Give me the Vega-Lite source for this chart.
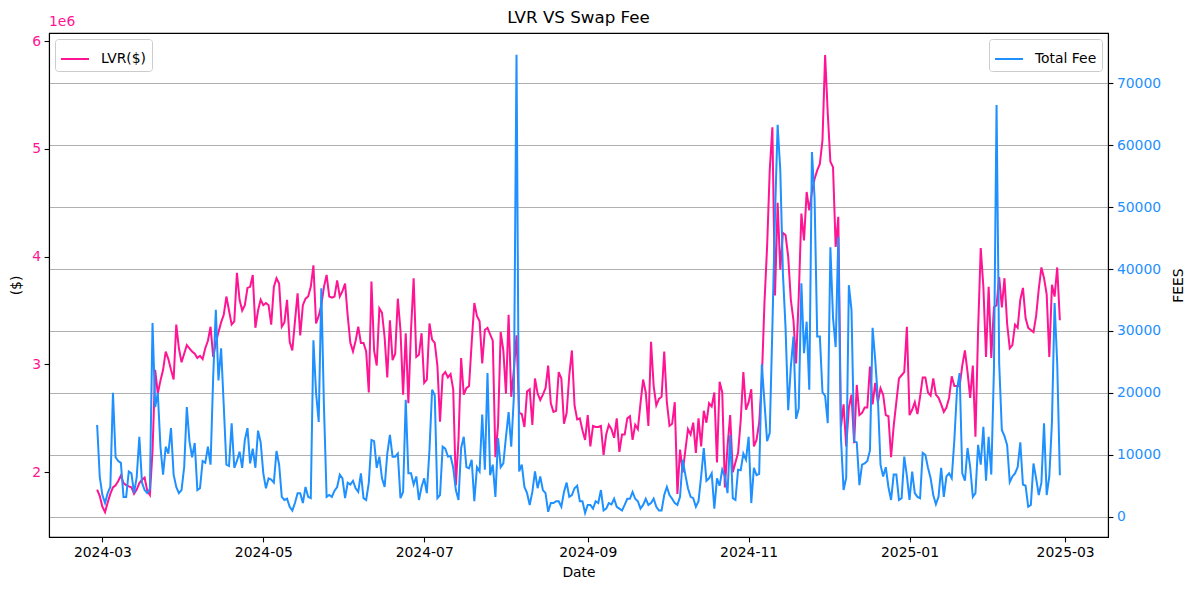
{
  "$schema": "https://vega.github.io/schema/vega-lite/v6.json",
  "width": 1059,
  "height": 504,
  "autosize": "none",
  "padding": {"left": 49, "top": 33, "right": 81, "bottom": 53},
  "title": {
    "text": "LVR VS Swap Fee",
    "frame": "group",
    "anchor": "middle",
    "fontSize": 16.7,
    "fontWeight": "normal",
    "color": "#000000",
    "offset": -12
  },
  "data": {
    "values": [
      {"date": "2024-02-28", "lvr": 1840000, "fee": 14800},
      {"date": "2024-02-29", "lvr": 1780000, "fee": 6400},
      {"date": "2024-03-01", "lvr": 1680000, "fee": 3500},
      {"date": "2024-03-02", "lvr": 1630000, "fee": 2200},
      {"date": "2024-03-03", "lvr": 1720000, "fee": 3800},
      {"date": "2024-03-04", "lvr": 1800000, "fee": 4800},
      {"date": "2024-03-05", "lvr": 1860000, "fee": 20000},
      {"date": "2024-03-06", "lvr": 1880000, "fee": 9600},
      {"date": "2024-03-07", "lvr": 1920000, "fee": 9000},
      {"date": "2024-03-08", "lvr": 1970000, "fee": 8700},
      {"date": "2024-03-09", "lvr": 1900000, "fee": 3200},
      {"date": "2024-03-10", "lvr": 1880000, "fee": 3200},
      {"date": "2024-03-11", "lvr": 1870000, "fee": 7300},
      {"date": "2024-03-12", "lvr": 1860000, "fee": 7000},
      {"date": "2024-03-13", "lvr": 1800000, "fee": 3800},
      {"date": "2024-03-14", "lvr": 1840000, "fee": 6400},
      {"date": "2024-03-15", "lvr": 1900000, "fee": 12900},
      {"date": "2024-03-16", "lvr": 1930000, "fee": 5500},
      {"date": "2024-03-17", "lvr": 1950000, "fee": 4300},
      {"date": "2024-03-18", "lvr": 1830000, "fee": 3800},
      {"date": "2024-03-19", "lvr": 1790000, "fee": 4500},
      {"date": "2024-03-20", "lvr": 2200000, "fee": 31300},
      {"date": "2024-03-21", "lvr": 2950000, "fee": 17700},
      {"date": "2024-03-22", "lvr": 2730000, "fee": 20000},
      {"date": "2024-03-23", "lvr": 2850000, "fee": 11300},
      {"date": "2024-03-24", "lvr": 2950000, "fee": 6800},
      {"date": "2024-03-25", "lvr": 3120000, "fee": 11300},
      {"date": "2024-03-26", "lvr": 3050000, "fee": 10200},
      {"date": "2024-03-27", "lvr": 2950000, "fee": 14300},
      {"date": "2024-03-28", "lvr": 2860000, "fee": 6800},
      {"date": "2024-03-29", "lvr": 3370000, "fee": 4800},
      {"date": "2024-03-30", "lvr": 3150000, "fee": 3800},
      {"date": "2024-03-31", "lvr": 3020000, "fee": 4300},
      {"date": "2024-04-01", "lvr": 3100000, "fee": 8000},
      {"date": "2024-04-02", "lvr": 3180000, "fee": 17700},
      {"date": "2024-04-03", "lvr": 3150000, "fee": 12200},
      {"date": "2024-04-04", "lvr": 3120000, "fee": 9600},
      {"date": "2024-04-05", "lvr": 3100000, "fee": 11900},
      {"date": "2024-04-06", "lvr": 3060000, "fee": 4300},
      {"date": "2024-04-07", "lvr": 3080000, "fee": 4600},
      {"date": "2024-04-08", "lvr": 3050000, "fee": 9000},
      {"date": "2024-04-09", "lvr": 3150000, "fee": 8700},
      {"date": "2024-04-10", "lvr": 3220000, "fee": 11300},
      {"date": "2024-04-11", "lvr": 3350000, "fee": 8400},
      {"date": "2024-04-12", "lvr": 3070000, "fee": 22600},
      {"date": "2024-04-13", "lvr": 3200000, "fee": 33400},
      {"date": "2024-04-14", "lvr": 3300000, "fee": 22000},
      {"date": "2024-04-15", "lvr": 3390000, "fee": 27200},
      {"date": "2024-04-16", "lvr": 3460000, "fee": 18000},
      {"date": "2024-04-17", "lvr": 3630000, "fee": 8400},
      {"date": "2024-04-18", "lvr": 3500000, "fee": 8200},
      {"date": "2024-04-19", "lvr": 3370000, "fee": 15100},
      {"date": "2024-04-20", "lvr": 3400000, "fee": 7900},
      {"date": "2024-04-21", "lvr": 3850000, "fee": 9000},
      {"date": "2024-04-22", "lvr": 3600000, "fee": 10500},
      {"date": "2024-04-23", "lvr": 3500000, "fee": 7900},
      {"date": "2024-04-24", "lvr": 3550000, "fee": 12400},
      {"date": "2024-04-25", "lvr": 3710000, "fee": 14300},
      {"date": "2024-04-26", "lvr": 3720000, "fee": 8600},
      {"date": "2024-04-27", "lvr": 3830000, "fee": 11000},
      {"date": "2024-04-28", "lvr": 3340000, "fee": 7900},
      {"date": "2024-04-29", "lvr": 3500000, "fee": 13900},
      {"date": "2024-04-30", "lvr": 3600000, "fee": 12000},
      {"date": "2024-05-01", "lvr": 3550000, "fee": 7000},
      {"date": "2024-05-02", "lvr": 3570000, "fee": 4600},
      {"date": "2024-05-03", "lvr": 3550000, "fee": 6200},
      {"date": "2024-05-04", "lvr": 3370000, "fee": 6000},
      {"date": "2024-05-05", "lvr": 3720000, "fee": 5500},
      {"date": "2024-05-06", "lvr": 3800000, "fee": 10600},
      {"date": "2024-05-07", "lvr": 3750000, "fee": 8400},
      {"date": "2024-05-08", "lvr": 3350000, "fee": 3200},
      {"date": "2024-05-09", "lvr": 3390000, "fee": 2700},
      {"date": "2024-05-10", "lvr": 3600000, "fee": 2900},
      {"date": "2024-05-11", "lvr": 3210000, "fee": 1600},
      {"date": "2024-05-12", "lvr": 3130000, "fee": 1000},
      {"date": "2024-05-13", "lvr": 3400000, "fee": 2200},
      {"date": "2024-05-14", "lvr": 3660000, "fee": 3800},
      {"date": "2024-05-15", "lvr": 3270000, "fee": 3800},
      {"date": "2024-05-16", "lvr": 3550000, "fee": 2200},
      {"date": "2024-05-17", "lvr": 3610000, "fee": 4800},
      {"date": "2024-05-18", "lvr": 3630000, "fee": 3200},
      {"date": "2024-05-19", "lvr": 3720000, "fee": 3000},
      {"date": "2024-05-20", "lvr": 3920000, "fee": 28500},
      {"date": "2024-05-21", "lvr": 3380000, "fee": 20000},
      {"date": "2024-05-22", "lvr": 3450000, "fee": 15300},
      {"date": "2024-05-23", "lvr": 3550000, "fee": 36900},
      {"date": "2024-05-24", "lvr": 3720000, "fee": 17700},
      {"date": "2024-05-25", "lvr": 3830000, "fee": 3200},
      {"date": "2024-05-26", "lvr": 3630000, "fee": 3500},
      {"date": "2024-05-27", "lvr": 3620000, "fee": 3200},
      {"date": "2024-05-28", "lvr": 3630000, "fee": 4200},
      {"date": "2024-05-29", "lvr": 3780000, "fee": 4800},
      {"date": "2024-05-30", "lvr": 3630000, "fee": 6800},
      {"date": "2024-05-31", "lvr": 3680000, "fee": 6200},
      {"date": "2024-06-01", "lvr": 3750000, "fee": 3000},
      {"date": "2024-06-02", "lvr": 3450000, "fee": 5500},
      {"date": "2024-06-03", "lvr": 3200000, "fee": 5200},
      {"date": "2024-06-04", "lvr": 3120000, "fee": 5800},
      {"date": "2024-06-05", "lvr": 3220000, "fee": 4600},
      {"date": "2024-06-06", "lvr": 3350000, "fee": 4000},
      {"date": "2024-06-07", "lvr": 3200000, "fee": 7000},
      {"date": "2024-06-08", "lvr": 3200000, "fee": 3000},
      {"date": "2024-06-09", "lvr": 3120000, "fee": 2700},
      {"date": "2024-06-10", "lvr": 2740000, "fee": 5500},
      {"date": "2024-06-11", "lvr": 3770000, "fee": 12400},
      {"date": "2024-06-12", "lvr": 3130000, "fee": 12200},
      {"date": "2024-06-13", "lvr": 2990000, "fee": 7900},
      {"date": "2024-06-14", "lvr": 3520000, "fee": 9700},
      {"date": "2024-06-15", "lvr": 3480000, "fee": 6200},
      {"date": "2024-06-16", "lvr": 3250000, "fee": 4800},
      {"date": "2024-06-17", "lvr": 2880000, "fee": 10200},
      {"date": "2024-06-18", "lvr": 3410000, "fee": 13200},
      {"date": "2024-06-19", "lvr": 3040000, "fee": 9700},
      {"date": "2024-06-20", "lvr": 3100000, "fee": 9700},
      {"date": "2024-06-21", "lvr": 3610000, "fee": 10200},
      {"date": "2024-06-22", "lvr": 3320000, "fee": 3000},
      {"date": "2024-06-23", "lvr": 2720000, "fee": 4000},
      {"date": "2024-06-24", "lvr": 3290000, "fee": 18900},
      {"date": "2024-06-25", "lvr": 2640000, "fee": 7000},
      {"date": "2024-06-26", "lvr": 3320000, "fee": 7000},
      {"date": "2024-06-27", "lvr": 3800000, "fee": 5200},
      {"date": "2024-06-28", "lvr": 3070000, "fee": 6500},
      {"date": "2024-06-29", "lvr": 3090000, "fee": 2700},
      {"date": "2024-06-30", "lvr": 3290000, "fee": 4800},
      {"date": "2024-07-01", "lvr": 2830000, "fee": 6200},
      {"date": "2024-07-02", "lvr": 2860000, "fee": 3800},
      {"date": "2024-07-03", "lvr": 3380000, "fee": 10800},
      {"date": "2024-07-04", "lvr": 3230000, "fee": 20500},
      {"date": "2024-07-05", "lvr": 3200000, "fee": 19600},
      {"date": "2024-07-06", "lvr": 2990000, "fee": 3000},
      {"date": "2024-07-07", "lvr": 2470000, "fee": 3500},
      {"date": "2024-07-08", "lvr": 2900000, "fee": 11300},
      {"date": "2024-07-09", "lvr": 2930000, "fee": 11000},
      {"date": "2024-07-10", "lvr": 2880000, "fee": 9700},
      {"date": "2024-07-11", "lvr": 2910000, "fee": 9800},
      {"date": "2024-07-12", "lvr": 2770000, "fee": 7900},
      {"date": "2024-07-13", "lvr": 1880000, "fee": 4300},
      {"date": "2024-07-14", "lvr": 2300000, "fee": 2700},
      {"date": "2024-07-15", "lvr": 3060000, "fee": 11100},
      {"date": "2024-07-16", "lvr": 2720000, "fee": 12900},
      {"date": "2024-07-17", "lvr": 2780000, "fee": 8000},
      {"date": "2024-07-18", "lvr": 2800000, "fee": 7800},
      {"date": "2024-07-19", "lvr": 3200000, "fee": 9200},
      {"date": "2024-07-20", "lvr": 3570000, "fee": 2500},
      {"date": "2024-07-21", "lvr": 3450000, "fee": 8000},
      {"date": "2024-07-22", "lvr": 3400000, "fee": 7300},
      {"date": "2024-07-23", "lvr": 3010000, "fee": 16500},
      {"date": "2024-07-24", "lvr": 3320000, "fee": 7600},
      {"date": "2024-07-25", "lvr": 3340000, "fee": 23200},
      {"date": "2024-07-26", "lvr": 3280000, "fee": 6700},
      {"date": "2024-07-27", "lvr": 3220000, "fee": 8400},
      {"date": "2024-07-28", "lvr": 2140000, "fee": 3200},
      {"date": "2024-07-29", "lvr": 2440000, "fee": 12700},
      {"date": "2024-07-30", "lvr": 3300000, "fee": 8000},
      {"date": "2024-07-31", "lvr": 3130000, "fee": 8600},
      {"date": "2024-08-01", "lvr": 2730000, "fee": 12900},
      {"date": "2024-08-02", "lvr": 3460000, "fee": 16900},
      {"date": "2024-08-03", "lvr": 2700000, "fee": 11300},
      {"date": "2024-08-04", "lvr": 2950000, "fee": 19400},
      {"date": "2024-08-05", "lvr": 3270000, "fee": 74600},
      {"date": "2024-08-06", "lvr": 2550000, "fee": 7300},
      {"date": "2024-08-07", "lvr": 2540000, "fee": 8400},
      {"date": "2024-08-08", "lvr": 2420000, "fee": 4800},
      {"date": "2024-08-09", "lvr": 2750000, "fee": 3800},
      {"date": "2024-08-10", "lvr": 2770000, "fee": 1900},
      {"date": "2024-08-11", "lvr": 2440000, "fee": 4000},
      {"date": "2024-08-12", "lvr": 2870000, "fee": 7300},
      {"date": "2024-08-13", "lvr": 2730000, "fee": 4600},
      {"date": "2024-08-14", "lvr": 2670000, "fee": 6500},
      {"date": "2024-08-15", "lvr": 2720000, "fee": 4300},
      {"date": "2024-08-16", "lvr": 2780000, "fee": 3800},
      {"date": "2024-08-17", "lvr": 2990000, "fee": 800},
      {"date": "2024-08-18", "lvr": 2640000, "fee": 2200},
      {"date": "2024-08-19", "lvr": 2560000, "fee": 2200},
      {"date": "2024-08-20", "lvr": 2570000, "fee": 2500},
      {"date": "2024-08-21", "lvr": 2930000, "fee": 2500},
      {"date": "2024-08-22", "lvr": 2870000, "fee": 1600},
      {"date": "2024-08-23", "lvr": 2450000, "fee": 4000},
      {"date": "2024-08-24", "lvr": 2550000, "fee": 5500},
      {"date": "2024-08-25", "lvr": 2900000, "fee": 3200},
      {"date": "2024-08-26", "lvr": 3130000, "fee": 3500},
      {"date": "2024-08-27", "lvr": 2620000, "fee": 4600},
      {"date": "2024-08-28", "lvr": 2490000, "fee": 5000},
      {"date": "2024-08-29", "lvr": 2500000, "fee": 2500},
      {"date": "2024-08-30", "lvr": 2390000, "fee": 2500},
      {"date": "2024-08-31", "lvr": 2300000, "fee": 600},
      {"date": "2024-09-01", "lvr": 2530000, "fee": 1900},
      {"date": "2024-09-02", "lvr": 2240000, "fee": 1900},
      {"date": "2024-09-03", "lvr": 2430000, "fee": 1300},
      {"date": "2024-09-04", "lvr": 2420000, "fee": 2500},
      {"date": "2024-09-05", "lvr": 2420000, "fee": 2200},
      {"date": "2024-09-06", "lvr": 2430000, "fee": 4300},
      {"date": "2024-09-07", "lvr": 2160000, "fee": 1000},
      {"date": "2024-09-08", "lvr": 2350000, "fee": 1300},
      {"date": "2024-09-09", "lvr": 2440000, "fee": 2200},
      {"date": "2024-09-10", "lvr": 2400000, "fee": 2000},
      {"date": "2024-09-11", "lvr": 2320000, "fee": 2900},
      {"date": "2024-09-12", "lvr": 2500000, "fee": 1600},
      {"date": "2024-09-13", "lvr": 2190000, "fee": 1300},
      {"date": "2024-09-14", "lvr": 2350000, "fee": 1000},
      {"date": "2024-09-15", "lvr": 2350000, "fee": 1900},
      {"date": "2024-09-16", "lvr": 2500000, "fee": 2900},
      {"date": "2024-09-17", "lvr": 2520000, "fee": 2900},
      {"date": "2024-09-18", "lvr": 2300000, "fee": 4000},
      {"date": "2024-09-19", "lvr": 2440000, "fee": 2900},
      {"date": "2024-09-20", "lvr": 2400000, "fee": 2500},
      {"date": "2024-09-21", "lvr": 2640000, "fee": 1300},
      {"date": "2024-09-22", "lvr": 2860000, "fee": 1900},
      {"date": "2024-09-23", "lvr": 2740000, "fee": 2900},
      {"date": "2024-09-24", "lvr": 2430000, "fee": 1900},
      {"date": "2024-09-25", "lvr": 3210000, "fee": 2200},
      {"date": "2024-09-26", "lvr": 2800000, "fee": 2900},
      {"date": "2024-09-27", "lvr": 2620000, "fee": 1600},
      {"date": "2024-09-28", "lvr": 2680000, "fee": 1000},
      {"date": "2024-09-29", "lvr": 2700000, "fee": 1000},
      {"date": "2024-09-30", "lvr": 3120000, "fee": 3500},
      {"date": "2024-10-01", "lvr": 2650000, "fee": 4800},
      {"date": "2024-10-02", "lvr": 2430000, "fee": 3500},
      {"date": "2024-10-03", "lvr": 2450000, "fee": 2900},
      {"date": "2024-10-04", "lvr": 2650000, "fee": 2200},
      {"date": "2024-10-05", "lvr": 1800000, "fee": 1900},
      {"date": "2024-10-06", "lvr": 2210000, "fee": 3200},
      {"date": "2024-10-07", "lvr": 2000000, "fee": 9200},
      {"date": "2024-10-08", "lvr": 2200000, "fee": 6800},
      {"date": "2024-10-09", "lvr": 2400000, "fee": 4600},
      {"date": "2024-10-10", "lvr": 2350000, "fee": 3200},
      {"date": "2024-10-11", "lvr": 2460000, "fee": 3000},
      {"date": "2024-10-12", "lvr": 2180000, "fee": 1600},
      {"date": "2024-10-13", "lvr": 2500000, "fee": 2500},
      {"date": "2024-10-14", "lvr": 2240000, "fee": 6500},
      {"date": "2024-10-15", "lvr": 2570000, "fee": 11100},
      {"date": "2024-10-16", "lvr": 2460000, "fee": 5800},
      {"date": "2024-10-17", "lvr": 2640000, "fee": 6200},
      {"date": "2024-10-18", "lvr": 2610000, "fee": 7000},
      {"date": "2024-10-19", "lvr": 2740000, "fee": 1300},
      {"date": "2024-10-20", "lvr": 2090000, "fee": 6200},
      {"date": "2024-10-21", "lvr": 2840000, "fee": 5000},
      {"date": "2024-10-22", "lvr": 2740000, "fee": 7600},
      {"date": "2024-10-23", "lvr": 1860000, "fee": 6500},
      {"date": "2024-10-24", "lvr": 2240000, "fee": 3800},
      {"date": "2024-10-25", "lvr": 2530000, "fee": 13200},
      {"date": "2024-10-26", "lvr": 2000000, "fee": 3000},
      {"date": "2024-10-27", "lvr": 2090000, "fee": 2700},
      {"date": "2024-10-28", "lvr": 2180000, "fee": 7600},
      {"date": "2024-10-29", "lvr": 2480000, "fee": 7500},
      {"date": "2024-10-30", "lvr": 2930000, "fee": 10200},
      {"date": "2024-10-31", "lvr": 2580000, "fee": 9200},
      {"date": "2024-11-01", "lvr": 2650000, "fee": 12900},
      {"date": "2024-11-02", "lvr": 2770000, "fee": 2200},
      {"date": "2024-11-03", "lvr": 2240000, "fee": 7900},
      {"date": "2024-11-04", "lvr": 2300000, "fee": 6700},
      {"date": "2024-11-05", "lvr": 2460000, "fee": 6900},
      {"date": "2024-11-06", "lvr": 2860000, "fee": 24600},
      {"date": "2024-11-07", "lvr": 3570000, "fee": 18500},
      {"date": "2024-11-08", "lvr": 4090000, "fee": 12200},
      {"date": "2024-11-09", "lvr": 4800000, "fee": 13500},
      {"date": "2024-11-10", "lvr": 5200000, "fee": 30500},
      {"date": "2024-11-11", "lvr": 3640000, "fee": 48700},
      {"date": "2024-11-12", "lvr": 4500000, "fee": 63300},
      {"date": "2024-11-13", "lvr": 3880000, "fee": 56000},
      {"date": "2024-11-14", "lvr": 4220000, "fee": 39300},
      {"date": "2024-11-15", "lvr": 4200000, "fee": 30500},
      {"date": "2024-11-16", "lvr": 4000000, "fee": 17200},
      {"date": "2024-11-17", "lvr": 3600000, "fee": 24200},
      {"date": "2024-11-18", "lvr": 3410000, "fee": 29100},
      {"date": "2024-11-19", "lvr": 3010000, "fee": 15800},
      {"date": "2024-11-20", "lvr": 3630000, "fee": 17500},
      {"date": "2024-11-21", "lvr": 4400000, "fee": 37700},
      {"date": "2024-11-22", "lvr": 4150000, "fee": 26400},
      {"date": "2024-11-23", "lvr": 4600000, "fee": 31500},
      {"date": "2024-11-24", "lvr": 4430000, "fee": 20500},
      {"date": "2024-11-25", "lvr": 4600000, "fee": 58900},
      {"date": "2024-11-26", "lvr": 4720000, "fee": 51600},
      {"date": "2024-11-27", "lvr": 4800000, "fee": 29100},
      {"date": "2024-11-28", "lvr": 4860000, "fee": 29100},
      {"date": "2024-11-29", "lvr": 5080000, "fee": 20100},
      {"date": "2024-11-30", "lvr": 5870000, "fee": 19500},
      {"date": "2024-12-01", "lvr": 5330000, "fee": 15100},
      {"date": "2024-12-02", "lvr": 4880000, "fee": 43500},
      {"date": "2024-12-03", "lvr": 4830000, "fee": 32100},
      {"date": "2024-12-04", "lvr": 4090000, "fee": 27400},
      {"date": "2024-12-05", "lvr": 4370000, "fee": 45200},
      {"date": "2024-12-06", "lvr": 2420000, "fee": 12700},
      {"date": "2024-12-07", "lvr": 2630000, "fee": 4300},
      {"date": "2024-12-08", "lvr": 2240000, "fee": 6300},
      {"date": "2024-12-09", "lvr": 2600000, "fee": 37400},
      {"date": "2024-12-10", "lvr": 2720000, "fee": 33400},
      {"date": "2024-12-11", "lvr": 2270000, "fee": 12200},
      {"date": "2024-12-12", "lvr": 2810000, "fee": 12000},
      {"date": "2024-12-13", "lvr": 2530000, "fee": 5100},
      {"date": "2024-12-14", "lvr": 2550000, "fee": 8400},
      {"date": "2024-12-15", "lvr": 2600000, "fee": 8600},
      {"date": "2024-12-16", "lvr": 2600000, "fee": 9000},
      {"date": "2024-12-17", "lvr": 2980000, "fee": 10700},
      {"date": "2024-12-18", "lvr": 2630000, "fee": 30500},
      {"date": "2024-12-19", "lvr": 2830000, "fee": 25300},
      {"date": "2024-12-20", "lvr": 2650000, "fee": 19100},
      {"date": "2024-12-21", "lvr": 2780000, "fee": 8400},
      {"date": "2024-12-22", "lvr": 2720000, "fee": 6500},
      {"date": "2024-12-23", "lvr": 2530000, "fee": 8000},
      {"date": "2024-12-24", "lvr": 2520000, "fee": 4800},
      {"date": "2024-12-25", "lvr": 2140000, "fee": 2700},
      {"date": "2024-12-26", "lvr": 2430000, "fee": 6800},
      {"date": "2024-12-27", "lvr": 2650000, "fee": 6800},
      {"date": "2024-12-28", "lvr": 2870000, "fee": 2700},
      {"date": "2024-12-29", "lvr": 2900000, "fee": 3000},
      {"date": "2024-12-30", "lvr": 2930000, "fee": 9700},
      {"date": "2024-12-31", "lvr": 3350000, "fee": 6600},
      {"date": "2025-01-01", "lvr": 2530000, "fee": 2700},
      {"date": "2025-01-02", "lvr": 2580000, "fee": 7300},
      {"date": "2025-01-03", "lvr": 2650000, "fee": 3800},
      {"date": "2025-01-04", "lvr": 2540000, "fee": 3200},
      {"date": "2025-01-05", "lvr": 2700000, "fee": 3000},
      {"date": "2025-01-06", "lvr": 2880000, "fee": 10300},
      {"date": "2025-01-07", "lvr": 2880000, "fee": 10000},
      {"date": "2025-01-08", "lvr": 2740000, "fee": 7900},
      {"date": "2025-01-09", "lvr": 2710000, "fee": 6200},
      {"date": "2025-01-10", "lvr": 2870000, "fee": 3500},
      {"date": "2025-01-11", "lvr": 2720000, "fee": 2000},
      {"date": "2025-01-12", "lvr": 2690000, "fee": 3200},
      {"date": "2025-01-13", "lvr": 2630000, "fee": 7900},
      {"date": "2025-01-14", "lvr": 2560000, "fee": 3200},
      {"date": "2025-01-15", "lvr": 2600000, "fee": 6500},
      {"date": "2025-01-16", "lvr": 2690000, "fee": 7000},
      {"date": "2025-01-17", "lvr": 2890000, "fee": 6200},
      {"date": "2025-01-18", "lvr": 2800000, "fee": 12400},
      {"date": "2025-01-19", "lvr": 2800000, "fee": 20500},
      {"date": "2025-01-20", "lvr": 2800000, "fee": 23200},
      {"date": "2025-01-21", "lvr": 2990000, "fee": 7000},
      {"date": "2025-01-22", "lvr": 3130000, "fee": 5800},
      {"date": "2025-01-23", "lvr": 2930000, "fee": 11100},
      {"date": "2025-01-24", "lvr": 2690000, "fee": 8000},
      {"date": "2025-01-25", "lvr": 2990000, "fee": 3200},
      {"date": "2025-01-26", "lvr": 2330000, "fee": 3800},
      {"date": "2025-01-27", "lvr": 3320000, "fee": 11600},
      {"date": "2025-01-28", "lvr": 4080000, "fee": 8400},
      {"date": "2025-01-29", "lvr": 3720000, "fee": 14500},
      {"date": "2025-01-30", "lvr": 3070000, "fee": 5800},
      {"date": "2025-01-31", "lvr": 3720000, "fee": 12900},
      {"date": "2025-02-01", "lvr": 3060000, "fee": 6800},
      {"date": "2025-02-02", "lvr": 3530000, "fee": 23700},
      {"date": "2025-02-03", "lvr": 3550000, "fee": 66500},
      {"date": "2025-02-04", "lvr": 3810000, "fee": 24700},
      {"date": "2025-02-05", "lvr": 3530000, "fee": 14000},
      {"date": "2025-02-06", "lvr": 3800000, "fee": 13000},
      {"date": "2025-02-07", "lvr": 3380000, "fee": 11600},
      {"date": "2025-02-08", "lvr": 3150000, "fee": 5600},
      {"date": "2025-02-09", "lvr": 3180000, "fee": 6500},
      {"date": "2025-02-10", "lvr": 3370000, "fee": 7000},
      {"date": "2025-02-11", "lvr": 3340000, "fee": 8000},
      {"date": "2025-02-12", "lvr": 3600000, "fee": 12000},
      {"date": "2025-02-13", "lvr": 3710000, "fee": 5200},
      {"date": "2025-02-14", "lvr": 3430000, "fee": 5000},
      {"date": "2025-02-15", "lvr": 3340000, "fee": 1600},
      {"date": "2025-02-16", "lvr": 3320000, "fee": 1900},
      {"date": "2025-02-17", "lvr": 3300000, "fee": 8600},
      {"date": "2025-02-18", "lvr": 3450000, "fee": 6200},
      {"date": "2025-02-19", "lvr": 3700000, "fee": 3500},
      {"date": "2025-02-20", "lvr": 3900000, "fee": 5500},
      {"date": "2025-02-21", "lvr": 3800000, "fee": 15100},
      {"date": "2025-02-22", "lvr": 3650000, "fee": 3500},
      {"date": "2025-02-23", "lvr": 3070000, "fee": 6500},
      {"date": "2025-02-24", "lvr": 3740000, "fee": 15300},
      {"date": "2025-02-25", "lvr": 3630000, "fee": 34500},
      {"date": "2025-02-26", "lvr": 3900000, "fee": 24700},
      {"date": "2025-02-27", "lvr": 3410000, "fee": 6700}
    ]
  },
  "encoding": {
    "x": {
      "field": "date",
      "type": "temporal",
      "title": "Date",
      "scale": {
        "type": "utc",
        "domain": [
          {"year": 2024, "month": 2, "date": 9, "hours": 18, "utc": true},
          {"year": 2025, "month": 3, "date": 17, "hours": 6, "utc": true}
        ]
      },
      "axis": {
        "values": [
          {"year": 2024, "month": 3, "date": 1, "utc": true},
          {"year": 2024, "month": 5, "date": 1, "utc": true},
          {"year": 2024, "month": 7, "date": 1, "utc": true},
          {"year": 2024, "month": 9, "date": 1, "utc": true},
          {"year": 2024, "month": 11, "date": 1, "utc": true},
          {"year": 2025, "month": 1, "date": 1, "utc": true},
          {"year": 2025, "month": 3, "date": 1, "utc": true}
        ],
        "format": "%Y-%m",
        "grid": false,
        "labelAngle": 0,
        "titlePadding": 6
      }
    }
  },
  "layer": [
    {
      "layer": [
        {
          "mark": {"type": "line", "color": "#ff1493", "strokeWidth": 2},
          "encoding": {
            "y": {
              "field": "lvr",
              "type": "quantitative",
              "title": "($)",
              "scale": {"domain": [1399800, 6074200], "nice": false, "zero": false},
              "axis": {
                "orient": "left",
                "values": [2000000, 3000000, 4000000, 5000000, 6000000],
                "labelExpr": "datum.value / 1000000",
                "labelColor": "#ff1493",
                "grid": false,
                "titlePadding": 8
              }
            },
            "color": {
              "datum": "LVR($)",
              "scale": {"domain": ["LVR($)"], "range": ["#ff1493"]},
              "legend": {"orient": "top-left", "title": null}
            }
          }
        },
        {
          "transform": [
            {"window": [{"op": "row_number", "as": "rn"}]},
            {"filter": "datum.rn == 1"}
          ],
          "mark": {
            "type": "text",
            "text": "1e6",
            "align": "left",
            "baseline": "bottom",
            "dy": -4,
            "color": "#ff1493",
            "fontSize": 13.9
          },
          "encoding": {
            "x": {"datum": {"year": 2024, "month": 2, "date": 9, "hours": 18, "utc": true}, "type": "temporal", "title": "Date"},
            "y": {"datum": 6074200, "type": "quantitative", "title": "($)"}
          }
        }
      ]
    },
    {
      "mark": {"type": "line", "color": "#1e90ff", "strokeWidth": 2},
      "encoding": {
        "y": {
          "field": "fee",
          "type": "quantitative",
          "title": "FEES",
          "scale": {"domain": [-3280, 78125], "nice": false, "zero": false},
          "axis": {
            "orient": "right",
            "values": [0, 10000, 20000, 30000, 40000, 50000, 60000, 70000],
            "format": "d",
            "labelColor": "#1e90ff",
            "grid": true,
            "gridColor": "#b0b0b0",
            "gridWidth": 1.1,
            "titleAngle": 270,
            "titlePadding": 25
          }
        },
        "color": {
          "datum": "Total Fee",
          "scale": {"domain": ["Total Fee"], "range": ["#1e90ff"]},
          "legend": {"orient": "top-right", "title": null}
        }
      }
    }
  ],
  "resolve": {"scale": {"y": "independent", "color": "independent"}},
  "config": {
    "font": "DejaVu Sans",
    "view": {"stroke": "#000000", "strokeWidth": 1.1},
    "axis": {
      "labelFont": "DejaVu Sans",
      "titleFont": "DejaVu Sans",
      "labelFontSize": 13.9,
      "titleFontSize": 13.9,
      "titleFontWeight": "normal",
      "titleColor": "#000000",
      "labelColor": "#000000",
      "tickColor": "#000000",
      "domainColor": "#000000",
      "domainWidth": 1.1,
      "tickWidth": 1.1,
      "tickSize": 4.9,
      "labelPadding": 3.5
    },
    "legend": {
      "labelFont": "DejaVu Sans",
      "labelFontSize": 13.9,
      "labelColor": "#000000",
      "symbolType": "stroke",
      "symbolSize": 784,
      "symbolStrokeWidth": 2,
      "labelOffset": 11,
      "padding": 5,
      "offset": 6,
      "fillColor": "#ffffff",
      "strokeColor": "#cccccc",
      "cornerRadius": 3
    }
  }
}
